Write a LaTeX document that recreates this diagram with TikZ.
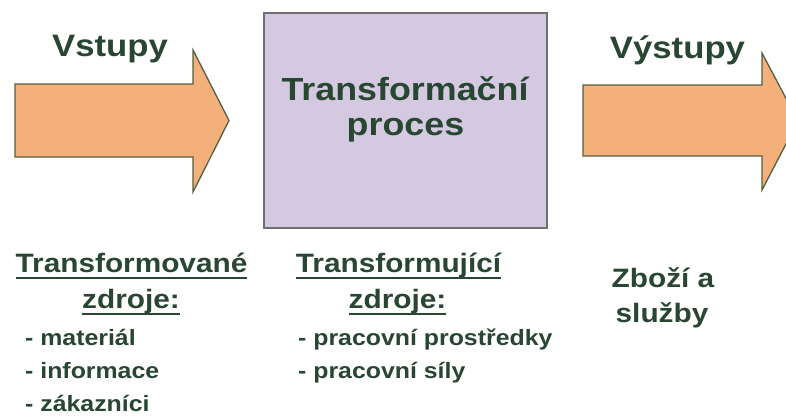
\documentclass[tikz,border=0pt]{standalone}
\usepackage{fontspec}
\newfontfamily\labfont[FakeStretch=1.12]{Liberation Sans}
\definecolor{txtgreen}{RGB}{40,70,50}
\definecolor{arrowfill}{RGB}{244,176,122}
\definecolor{arrowline}{RGB}{84,96,66}
\definecolor{boxfill}{RGB}{212,201,224}
\definecolor{boxline}{RGB}{112,112,112}
% underlined heading: a thick rule a few points below the baseline
\newcommand\headline[1]{\setbox0\hbox{#1}\rlap{\rule[-6.5pt]{\wd0}{2pt}}\box0}
\tikzset{
  bigarrow/.style={fill=arrowfill,draw=arrowline,line width=1.3pt,line join=miter},
  title/.style={anchor=base,inner sep=0pt,text=txtgreen,font=\labfont\bfseries\fontsize{31}{36}\selectfont},
  head/.style={anchor=base,inner sep=0pt,text=txtgreen,font=\labfont\bfseries\fontsize{26.6}{30}\selectfont},
  item/.style={anchor=base west,inner sep=0pt,text=txtgreen,font=\labfont\bfseries\fontsize{22.2}{25}\selectfont},
}
\begin{document}
\begin{tikzpicture}[x=1pt,y=-1pt]
\useasboundingbox (0,0) rectangle (786,416);
\clip (0,0) rectangle (786,416);
\fill[white] (0,0) rectangle (786,416);

% input arrow
\draw[bigarrow] (15,84) -- (193,84) -- (193,50) -- (229,120.5) -- (193,192)
  -- (193,157) -- (15,157) -- cycle;
% output arrow (its tip runs past the right edge)
\draw[bigarrow] (583,85) -- (762,85) -- (762,53) -- (798,121) -- (762,190)
  -- (762,156) -- (583,156) -- cycle;

% process box
\node (proc) [draw=boxline,fill=boxfill,line width=1.6pt,minimum width=283pt,
  minimum height=215pt,inner sep=0pt] at (405.5,120.5) {};

\node (vst) [title] at (110,56) {Vstupy};
\node (vyst) [title] at (677.5,58) {Výstupy};
\node (pt1) [title,font=\labfont\bfseries\fontsize{32}{36}\selectfont] at (405,100) {Transformační};
\node (pt2) [title,font=\labfont\bfseries\fontsize{32}{36}\selectfont] at (405.5,135) {proces};

% transformed resources
\node (th1) [head] at (131.5,272) {\headline{Transformované}};
\node (th2) [head] at (131,308) {\headline{zdroje:}};
\node (ti1) [item] at (25,345) {- materiál};
\node (ti2) [item] at (25,378) {- informace};
\node (ti3) [item] at (25,411) {- zákazníci};

% transforming resources
\node (rh1) [head] at (398.5,272) {\headline{Transformující}};
\node (rh2) [head] at (397.5,308) {\headline{zdroje:}};
\node (ri1) [item] at (298,345) {- pracovní prostředky};
\node (ri2) [item] at (298,378) {- pracovní síly};

% outputs
\node (o1) [head] at (663,287) {Zboží a};
\node (o2) [head] at (662,322) {služby};
\end{tikzpicture}
\end{document}
